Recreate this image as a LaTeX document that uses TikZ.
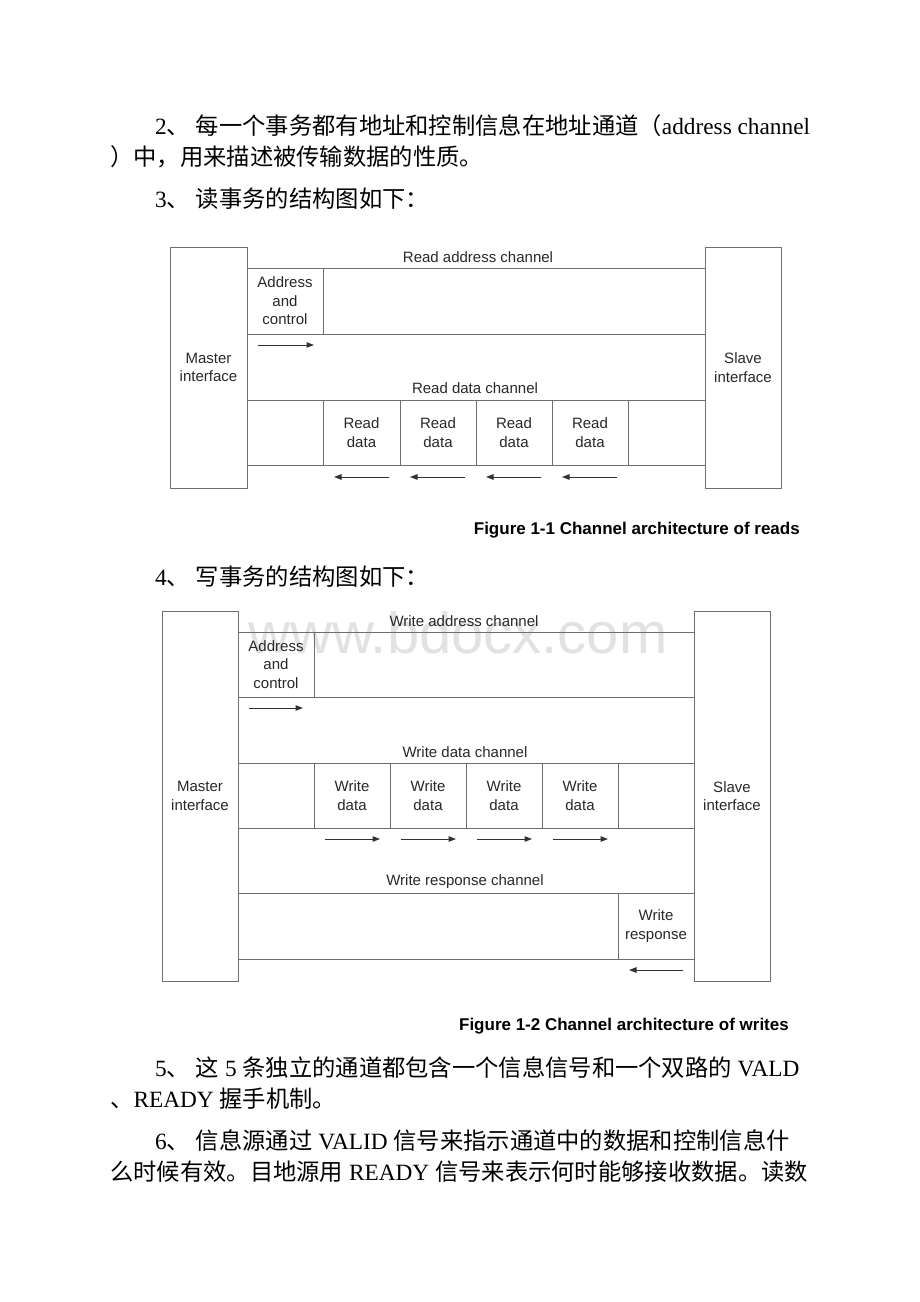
\documentclass[tikz,border=0pt]{standalone}
\usepackage{fontspec}
\setmainfont{Liberation Serif}
\newfontfamily\cjk{Noto Sans CJK SC}
\newfontfamily\arialf{Liberation Sans}
\usetikzlibrary{arrows.meta,fit}
\definecolor{linec}{RGB}{110,110,110}
\definecolor{arrc}{RGB}{50,50,50}
\definecolor{txtc}{RGB}{40,40,40}
\definecolor{wmc}{RGB}{226,226,226}
\newcommand\zh[1]{{\cjk #1}}
\begin{document}
\begin{tikzpicture}[x=1pt,y=-1pt,
  box/.style={draw=linec, line width=1pt, inner sep=0pt},
  btxt/.style={font=\arialf\fontsize{15}{18.5}\selectfont, text=txtc, align=center, inner sep=0pt},
  lbl/.style={font=\arialf\fontsize{15}{18}\selectfont, text=txtc, inner sep=0pt},
  para/.style={anchor=base west, inner sep=0pt, font=\fontsize{23.3}{28}\selectfont},
  flow/.style={draw=arrc, line width=1pt, -{Triangle[length=7.5pt,width=5.5pt]}},
  figcap/.style={anchor=base east, inner sep=0pt, font=\arialf\bfseries\fontsize{17}{20}\selectfont}]
\useasboundingbox[fill=white] (0,0) rectangle (920,1302);

% ---------- paragraph text ----------
\node[para] (t1) at (155,134) {2\zh{、} \zh{每一个事务都有地址和控制信息在地址通道（}address channel};
\node[para] (t2) at (110,165) {\zh{）中，用来描述被传输数据的性质。}};
\node[para] (t3) at (155,207) {3\zh{、} \zh{读事务的结构图如下：}};
\node[para] (t4) at (155,585) {4\zh{、} \zh{写事务的结构图如下：}};
\node[para] (t5) at (155,1076) {5\zh{、} \zh{这} 5 \zh{条独立的通道都包含一个信息信号和一个双路的} VALD};
\node[para] (t6) at (110,1107) {\zh{、}READY \zh{握手机制。}};
\node[para] (t7) at (155,1149) {6\zh{、} \zh{信息源通过} VALID \zh{信号来指示通道中的数据和控制信息什}};
\node[para] (t8) at (110,1180) {\zh{么时候有效。目地源用} READY \zh{信号来表示何时能够接收数据。读数}};

% ---------- Figure 1-1 ----------
\node[box, fit={(170,247)(247,488)}] (rm) {};
\node[btxt] (rmt) at (rm.center) {Master\\interface};
\node[box, fit={(705,247)(781,488)}] (rs) {};
\node[btxt] (rst) at (rs.center) {Slave\\interface};
\node[lbl] (rlab1) at (478,257) {Read address channel};
\node[box, fit={(247,268)(705,334)}] (rach) {};
\node[box, fit={(247,268)(323,334)}] (rac) {};
\node[btxt] (ract) at (rac.center) {Address\\and\\control};
\coordinate (ra1) at (258,345); \coordinate (ra2) at (314,345);
\draw[flow] (ra1) -- (ra2);
\node[lbl] (rlab2) at (475,388) {Read data channel};
\node[box, fit={(247,400)(705,465)}] (rdch) {};
\foreach \i/\a/\b in {1/323/400, 2/400/476, 3/476/552, 4/552/628}{
  \node[box, fit={(\a,400)(\b,465)}] (rd\i) {};
  \node[btxt] (rdt\i) at (rd\i.center) {Read\\data};
}
\foreach \i/\s/\e in {1/389/334, 2/465/410, 3/541/486, 4/617/562}{
  \coordinate (rb\i s) at (\s,477); \coordinate (rb\i e) at (\e,477);
  \draw[flow] (rb\i s) -- (rb\i e);
}
\node[figcap] (cap1) at (800,534) {Figure 1-1 Channel architecture of reads};

% ---------- watermark ----------
\node[font=\arialf\fontsize{58}{58}\selectfont, text=wmc, inner sep=0pt] (wm) at (458,633) {www.bdocx.com};

% ---------- Figure 1-2 ----------
\node[box, fit={(162,611)(238,981)}] (wm1) {};
\node[btxt] (wm1t) at (wm1.center) {Master\\interface};
\node[box, fit={(694,611)(770,981)}] (ws1) {};
\node[btxt] (ws1t) at (ws1.center) {Slave\\interface};
\node[lbl] (wlab1) at (464,621) {Write address channel};
\node[box, fit={(238,632)(694,697)}] (wach) {};
\node[box, fit={(238,632)(314,697)}] (wac) {};
\node[btxt] (wact) at (wac.center) {Address\\and\\control};
\coordinate (wa1) at (249,708); \coordinate (wa2) at (303,708);
\draw[flow] (wa1) -- (wa2);
\node[lbl] (wlab2) at (465,752) {Write data channel};
\node[box, fit={(238,763)(694,828)}] (wdch) {};
\foreach \i/\a/\b in {1/314/390, 2/390/466, 3/466/542, 4/542/618}{
  \node[box, fit={(\a,763)(\b,828)}] (wd\i) {};
  \node[btxt] (wdt\i) at (wd\i.center) {Write\\data};
}
\foreach \i/\s/\e in {1/325/380, 2/401/456, 3/477/532, 4/553/608}{
  \coordinate (wb\i s) at (\s,839); \coordinate (wb\i e) at (\e,839);
  \draw[flow] (wb\i s) -- (wb\i e);
}
\node[lbl] (wlab3) at (465,882) {Write response channel};
\node[box, fit={(238,893)(694,959)}] (wrch) {};
\node[box, fit={(618,893)(694,959)}] (wr) {};
\node[btxt] (wrt) at (wr.center) {Write\\response};
\coordinate (wr1) at (683,970); \coordinate (wr2) at (629,970);
\draw[flow] (wr1) -- (wr2);
\node[figcap] (cap2) at (789,1030) {Figure 1-2 Channel architecture of writes};
\end{tikzpicture}
\end{document}
